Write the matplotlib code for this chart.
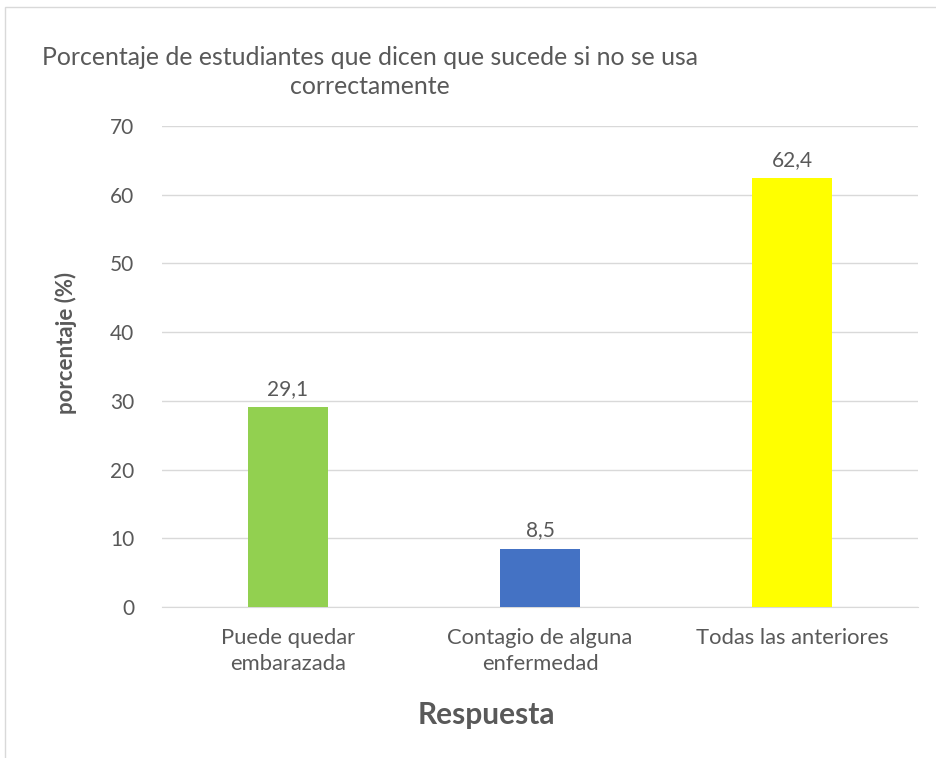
import matplotlib.pyplot as plt
from matplotlib.patches import Rectangle

categories = ["Puede quedar\nembarazada", "Contagio de alguna\nenfermedad", "Todas las anteriores"]
values = [29.1, 8.5, 62.4]
value_labels = ["29,1", "8,5", "62,4"]
colors = ["#92D050", "#4472C4", "#FFFF00"]
yticks = [0, 10, 20, 30, 40, 50, 60, 70]

TXT = "#595959"
plt.rcParams["font.family"] = ["Lato", "DejaVu Sans"]

fig = plt.figure(figsize=(9.36, 7.58), dpi=100)
ax = fig.add_axes([162 / 936, 1 - 607 / 758, 756 / 936, 481 / 758])

x = list(range(len(categories)))
ax.bar(x, values, width=0.317, color=colors, zorder=3)
for xi, v, lab in zip(x, values, value_labels):
    ax.annotate(lab, (xi, v), xytext=(0, 6), textcoords="offset points",
                ha="center", va="bottom", fontsize=15, color=TXT)

ax.set_xlim(-0.5, 2.5)
ax.set_ylim(0, 70)
ax.set_yticks(yticks)
ax.set_yticklabels([str(t) for t in yticks], fontsize=15, color=TXT)
ax.set_xticks(x)
ax.set_xticklabels(categories, fontsize=15.8, color=TXT, linespacing=1.4)
ax.tick_params(axis="y", length=0, pad=20)
ax.tick_params(axis="x", length=0, pad=15)
ax.grid(axis="y", color="#D9D9D9", linewidth=1, zorder=0)
for side in ["top", "right", "left"]:
    ax.spines[side].set_visible(False)
ax.spines["bottom"].set_color("#D9D9D9")

ax.set_ylabel("porcentaje (%)", fontsize=16, fontweight="bold", color=TXT)
ax.yaxis.set_label_coords(-0.112, 0.549)
ax.set_xlabel("Respuesta", fontsize=21.5, fontweight="bold", color=TXT)
ax.xaxis.set_label_coords(0.429, -0.195)

fig.text(370 / 936, 1 - 72 / 758, "Porcentaje de estudiantes que dicen que sucede si no se usa\ncorrectamente",
         ha="center", va="center", fontsize=17.9, color=TXT, linespacing=1.35)

fig.patches.append(Rectangle((5 / 936, -0.01), 1.0, 1 - 7 / 758 + 0.01, transform=fig.transFigure,
                             fill=False, edgecolor="#D9D9D9", linewidth=1))

fig.savefig("out.png", dpi=100)
